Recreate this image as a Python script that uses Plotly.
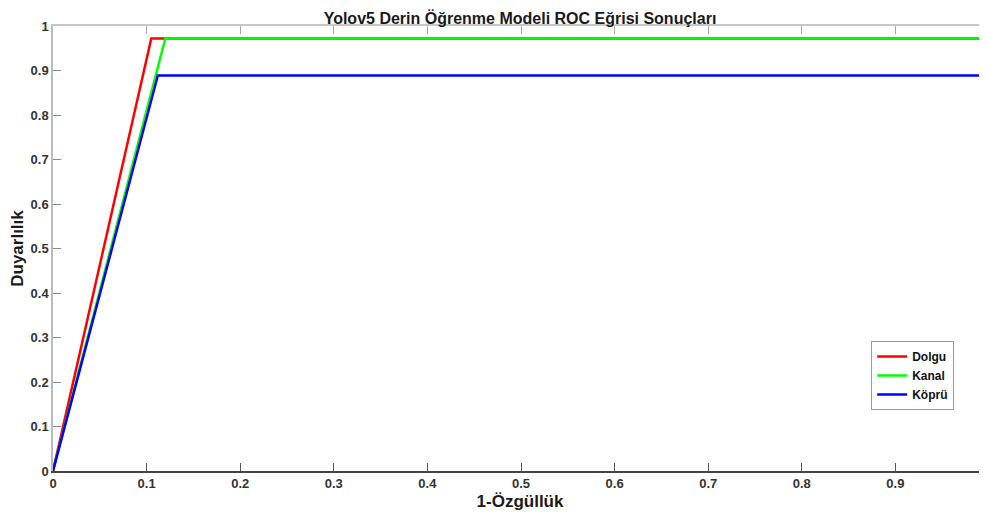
import plotly.graph_objects as go

dolgu_x = [0, 0.105, 1.0]
dolgu_y = [0, 0.972, 0.972]
kanal_x = [0, 0.12, 1.0]
kanal_y = [0, 0.972, 0.972]
kopru_x = [0, 0.112, 1.0]
kopru_y = [0, 0.889, 0.889]

tick_vals = [0, 0.1, 0.2, 0.3, 0.4, 0.5, 0.6, 0.7, 0.8, 0.9, 1]
tick_text = ["0", "0.1", "0.2", "0.3", "0.4", "0.5", "0.6", "0.7", "0.8", "0.9", "1"]

FONT = "Liberation Sans, Arial, sans-serif"

fig = go.Figure()
fig.add_trace(go.Scatter(x=dolgu_x, y=dolgu_y, mode="lines", name="Dolgu",
                         line=dict(color="#ff0000", width=2.5)))
fig.add_trace(go.Scatter(x=kanal_x, y=kanal_y, mode="lines", name="Kanal",
                         line=dict(color="#00ff00", width=2.5)))
fig.add_trace(go.Scatter(x=kopru_x, y=kopru_y, mode="lines", name="Köprü",
                         line=dict(color="#0000ff", width=2.5)))
# invisible trace to anchor the top (mirror) axis
fig.add_trace(go.Scatter(x=[0], y=[0], xaxis="x2", mode="markers",
                         marker=dict(opacity=0), showlegend=False, hoverinfo="skip"))

xr = [0, 934 / 936]
fig.update_layout(
    width=979, height=509,
    margin=dict(l=45, r=0, t=18, b=46, autoexpand=False),
    paper_bgcolor="white", plot_bgcolor="white",
    font=dict(family=FONT, color="#262626"),
    title=dict(text="<b>Yolov5 Derin Öğrenme Modeli ROC Eğrisi Sonuçları</b>",
               x=0.5, xref="paper", y=0.99, yanchor="top",
               font=dict(size=16, color="#1a1a1a")),
    xaxis=dict(range=xr, tickvals=tick_vals, ticktext=tick_text,
               ticks="inside", ticklen=8, tickcolor="#555", tickwidth=1,
               showline=True, linecolor="#444", linewidth=1.5,
               showgrid=False, zeroline=False,
               tickfont=dict(size=13, weight="bold", color="#333"),
               title=dict(text="<b>1-Özgüllük</b>", font=dict(size=17, color="#1a1a1a"), standoff=5)),
    xaxis2=dict(range=xr, overlaying="x", side="top", tickvals=tick_vals,
                ticks="inside", ticklen=8, tickcolor="#aaa", showticklabels=False,
                showline=True, linecolor="#c8c8c8", linewidth=1.5,
                showgrid=False, zeroline=False),
    yaxis=dict(range=[0, 1], tickvals=tick_vals, ticktext=tick_text,
               ticks="inside", ticklen=8, tickcolor="#888", tickwidth=1,
               showline=True, linecolor="#bbb", linewidth=1.5,
               showgrid=False, zeroline=False,
               tickfont=dict(size=13, weight="bold", color="#333"),
               title=dict(text="<b>Duyarlılık</b>", font=dict(size=17, color="#1a1a1a"), standoff=8)),
    legend=dict(x=0.876, y=0.292, xanchor="left", yanchor="top",
                bgcolor="white", bordercolor="#999", borderwidth=1,
                font=dict(size=12, weight="bold", color="#111"),
                itemwidth=30, tracegroupgap=0),
    showlegend=True,
)

fig.write_html("out.html")
